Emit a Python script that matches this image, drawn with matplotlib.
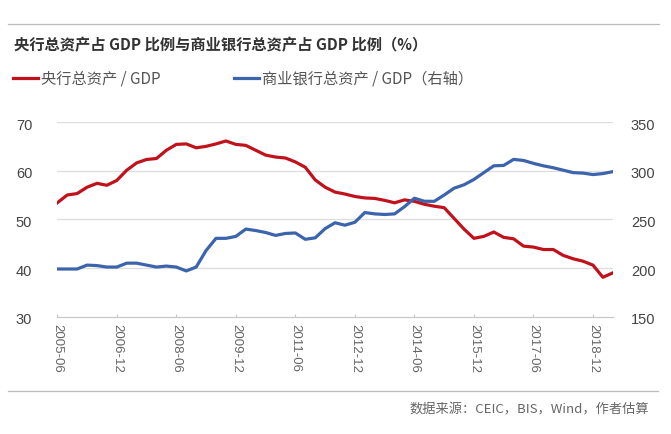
import matplotlib
matplotlib.use("Agg")
import matplotlib.pyplot as plt
import matplotlib.transforms as mtransforms
from matplotlib.lines import Line2D

plt.rcParams['font.family'] = ['Noto Sans CJK SC', 'DejaVu Sans']

# quarterly, 2005-06 .. 2019-06
quarters = [f"{y}-{m:02d}" for y in range(2005, 2020) for m in (3, 6, 9, 12)]
quarters = quarters[quarters.index("2005-06"):quarters.index("2019-06") + 1]

# central bank total assets / GDP (%), left axis
pboc_ratio = [
    53.4, 55.0, 55.3, 56.6, 57.4, 57.0, 58.0, 60.1, 61.6, 62.3,
    62.5, 64.2, 65.4, 65.5, 64.7, 65.0, 65.5, 66.1, 65.4, 65.2,
    64.2, 63.2, 62.8, 62.6, 61.8, 60.7, 58.1, 56.6, 55.6, 55.2,
    54.7, 54.4, 54.3, 53.9, 53.4, 54.0, 53.7, 53.1, 52.7, 52.4,
    50.2, 48.0, 46.1, 46.5, 47.4, 46.3, 46.0, 44.5, 44.3, 43.8,
    43.8, 42.6, 41.9, 41.4, 40.6, 38.1, 39.0,
]

# commercial bank total assets / GDP (%), right axis
bank_ratio = [
    199, 199, 199, 203, 202.5, 201, 201, 205, 205, 203,
    201, 202, 201, 197, 201, 218, 230.5, 230.5, 232.5, 240,
    238.5, 236.5, 233.5, 235.5, 236, 229.5, 231, 240.5, 246.5, 244,
    247, 257, 255.6, 255, 255.6, 263, 271.7, 268.6, 268.5, 275,
    282, 285.5, 291, 298, 305, 305.4, 311.6, 310.5, 307.5, 305,
    303, 300.5, 298, 297.5, 296, 297, 299,
]

left_ticks = [30, 40, 50, 60, 70]
right_ticks = [150, 200, 250, 300, 350]

title = "央行总资产占 GDP 比例与商业银行总资产占 GDP 比例（%）"
label_pboc = "央行总资产 / GDP"
label_bank = "商业银行总资产 / GDP（右轴）"
source = "数据来源：CEIC，BIS，Wind，作者估算"

RED = "#C1121C"
BLUE = "#3B64AD"
W, H = 671, 434

fig = plt.figure(figsize=(W / 100, H / 100), dpi=100)
ax = fig.add_axes([57.3 / W, 1 - 316.7 / H, (612.8 - 57.3) / W, (316.7 - 122) / H])
ax2 = ax.twinx()

x = list(range(len(quarters)))
ln1, = ax.plot(x, pboc_ratio, color=RED, linewidth=2.3, solid_joinstyle="round")
ln2, = ax2.plot(x, bank_ratio, color=BLUE, linewidth=2.3, solid_joinstyle="round")

ax.set_xlim(0, len(quarters) - 1)
ax.set_ylim(30, 70)
ax2.set_ylim(150, 350)
ax.set_yticks(left_ticks)
ax2.set_yticks(right_ticks)

for a in (ax, ax2):
    for side in ("top", "left", "right", "bottom"):
        a.spines[side].set_visible(False)
    a.tick_params(axis="y", length=0, labelsize=10.5, labelcolor="#444444")
ax.tick_params(axis="y", pad=18)
ax2.tick_params(axis="y", pad=13)

ax.spines["bottom"].set_visible(True)
ax.spines["bottom"].set_color("#C8C8C8")
ax.spines["bottom"].set_linewidth(0.9)

for v in left_ticks[1:]:
    ax.axhline(v, color="#DDDDDD", linewidth=0.9, zorder=0)

tick_pos = x[::6]
ax.set_xticks(tick_pos)
ax.set_xticklabels([quarters[i] for i in tick_pos], rotation=-90)
ax.tick_params(axis="x", direction="in", length=2.5, color="#C8C8C8",
               labelsize=9.5, labelcolor="#666666", pad=5)

offset = mtransforms.ScaledTranslation(0, -2 / 100, fig.dpi_scale_trans)
for lab in ax.get_yticklabels() + ax2.get_yticklabels():
    lab.set_transform(lab.get_transform() + offset)
    lab.set_family(["Liberation Sans", "DejaVu Sans"])
for lab in ax.get_xticklabels():
    lab.set_family(["Liberation Sans", "DejaVu Sans"])

# frame lines, title, legend, source
fig.add_artist(Line2D([8 / W, 659 / W], [1 - 24 / H] * 2, color="#BBBBBB", linewidth=0.9))
fig.add_artist(Line2D([8 / W, 658 / W], [1 - 391 / H] * 2, color="#BBBBBB", linewidth=0.9))
fig.text(14 / W, 1 - 45 / H, title, fontsize=11, fontweight="bold", color="#333333",
         ha="left", va="center")

fig.legend([ln1, ln2], [label_pboc, label_bank], loc="center left",
           bbox_to_anchor=(13 / W, 1 - 79 / H), ncol=2, frameon=False,
           fontsize=11, labelcolor="#555555", handlelength=1.65,
           handletextpad=0.2, columnspacing=4.8, borderpad=0, borderaxespad=0)

fig.text(649 / W, 1 - 410 / H, source, fontsize=9.5, color="#666666",
         ha="right", va="center")

fig.savefig("out.png", dpi=100)
plt.close(fig)
